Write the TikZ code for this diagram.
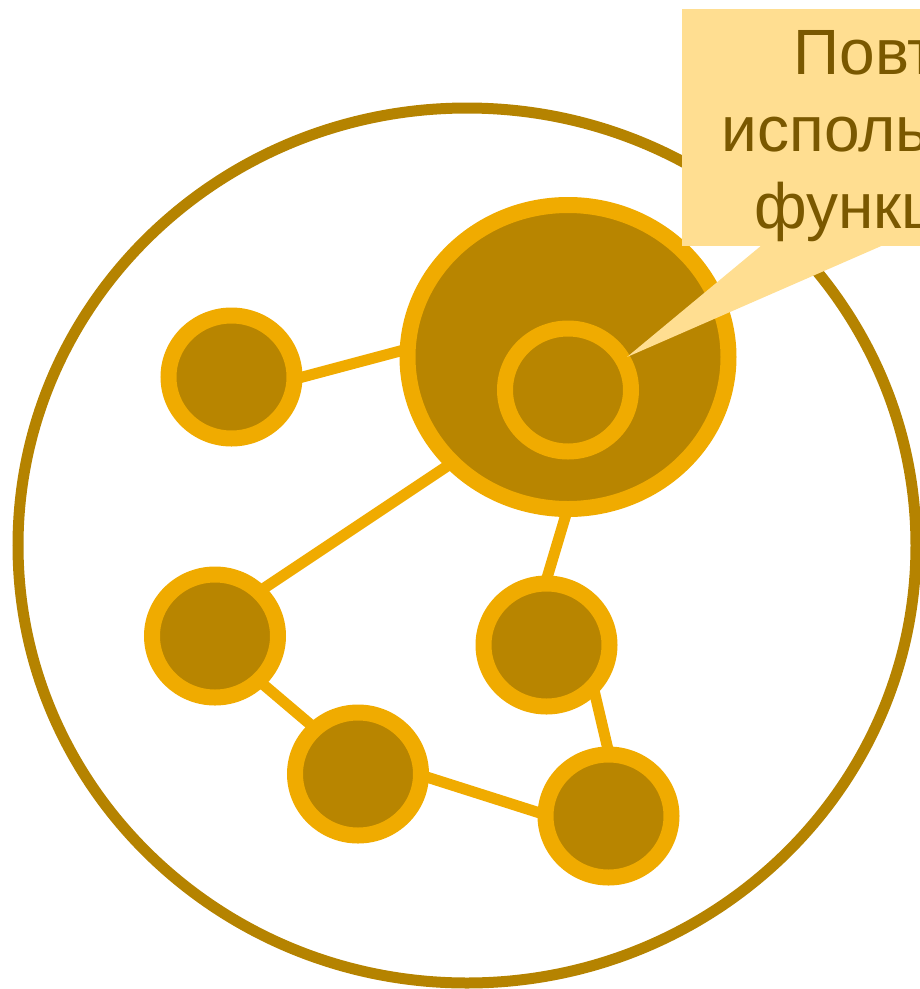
\documentclass[tikz,border=0pt]{standalone}
\usepackage{fontspec}
\setmainfont{Liberation Sans}
\usetikzlibrary{shapes.geometric,backgrounds}
\definecolor{ring}{HTML}{F0AB00}
\definecolor{hub}{HTML}{B88500}
\definecolor{frame}{HTML}{B58300}
\definecolor{note}{HTML}{FFDE91}
\definecolor{notetext}{HTML}{7A5800}
\begin{document}
\begin{tikzpicture}[x=1pt,y=-1pt,
  dot/.style={ellipse, draw=ring, fill=hub, line width=16pt, inner sep=0pt,
              minimum width=126pt, minimum height=123pt},
  link/.style={draw=ring, line width=11pt, shorten <=-6pt, shorten >=-6pt},
  notebox/.style={rectangle, fill=note, inner sep=0pt, minimum width=540pt, minimum height=237pt},
  notelabel/.style={font=\fontsize{64}{76.8}\selectfont, text=notetext, align=center, inner sep=0pt}]
\useasboundingbox (0,0) rectangle (920,989);
\clip (0,0) rectangle (920,989);
% outer frame
\node[ellipse, draw=frame, line width=11pt, inner sep=0pt, minimum width=898pt, minimum height=875pt] (frm) at (467,545.5) {};
% nodes
\node[dot, minimum width=321pt, minimum height=304pt] (top) at (568,357) {};
\node[dot] (inner) at (568,390) {};
\node[dot] (s1) at (231.5,377) {};
\node[dot] (a) at (215,636) {};
\node[dot] (b) at (358,774) {};
\node[dot] (c) at (546.5,645) {};
\node[dot] (d) at (608.5,816) {};
% links
\begin{scope}[on background layer]
\draw[link] (s1.0) -- (top.178);
\draw[link] (top.222) -- (a.44);
\draw[link] (top.269) -- (c.89);
\draw[link] (a.-45) -- (b.134);
\draw[link] (b.-3) -- (d.177);
\draw[link] (c.-46) -- (d.91);
\end{scope}
% callout
\coordinate (tip) at (627,357);
\fill[note] (768,240) -- (tip) -- (895,240) -- cycle;
\node[notebox, anchor=north west] (box) at (682,9) {};
\node[notelabel, anchor=north] (lbl) at (954,30.2) {Повторное\\использование\makebox[17.8pt]{}\\функционала};
\end{tikzpicture}
\end{document}
